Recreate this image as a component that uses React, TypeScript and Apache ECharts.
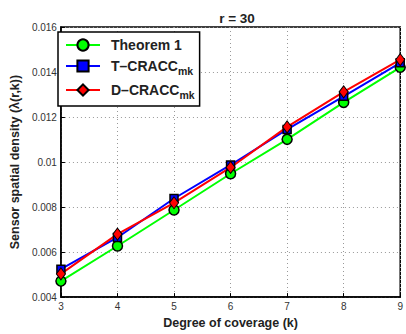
import React, { useEffect, useRef } from "react";
import * as echarts from "echarts";

const kValues = [3, 4, 5, 6, 7, 8, 9];
const theorem1 = [0.00471, 0.00627, 0.00787, 0.00948, 0.01101, 0.01265, 0.01421];
const tCracc = [0.00524, 0.00665, 0.00838, 0.00987, 0.01145, 0.01292, 0.01441];
const dCracc = [0.00503, 0.0068, 0.00819, 0.00976, 0.01156, 0.01312, 0.01455];
const yTickLabels: Record<string, string> = {
  "0.004": "0.004",
  "0.006": "0.006",
  "0.008": "0.008",
  "0.01": "0.01",
  "0.012": "0.012",
  "0.014": "0.014",
  "0.016": "0.016",
};
const seriesNames = ["Theorem 1", "T–CRACCmk", "D–CRACCmk"];

const FONT = "Liberation Sans, Arial, Helvetica, sans-serif";

export default function App() {
  const ref = useRef<HTMLDivElement>(null);
  useEffect(() => {
    if (!ref.current) return;
    const chart = echarts.init(ref.current, undefined, { renderer: "svg" });
    const toPairs = (arr: number[]) => kValues.map((k, i) => [k, arr[i]]);
    chart.setOption({
      animation: false,
      backgroundColor: "#ffffff",
      title: {
        text: "r = 30",
        left: 232,
        top: 6,
        textAlign: "center",
        textStyle: { fontFamily: FONT, fontWeight: "bold", fontSize: 13.5, color: "#222" },
      },
      grid: {
        left: 56,
        right: 4,
        top: 27,
        bottom: 33.5,
        show: true,
        borderColor: "#000",
        borderWidth: 1.5,
        backgroundColor: "#fff",
      },
      xAxis: {
        type: "value",
        min: 3,
        max: 9,
        interval: 1,
        name: "Degree of coverage (k)",
        nameLocation: "middle",
        nameGap: 16,
        nameTextStyle: { fontFamily: FONT, fontWeight: "bold", fontSize: 12.5, color: "#222" },
        axisLine: { show: true, lineStyle: { color: "#000", width: 1.5 } },
        axisTick: { show: true, inside: true, length: 4, lineStyle: { color: "#000" } },
        axisLabel: { fontFamily: FONT, fontSize: 10, color: "#333", margin: 4 },
        splitLine: { show: true, lineStyle: { color: "#999", type: [1, 3], width: 1 } },
      },
      yAxis: {
        type: "value",
        min: 0.004,
        max: 0.016,
        interval: 0.002,
        name: "Sensor spatial density (λ(r,k))",
        nameLocation: "middle",
        nameGap: 38,
        nameTextStyle: { fontFamily: FONT, fontWeight: "bold", fontSize: 12.5, color: "#222" },
        axisLine: { show: true, lineStyle: { color: "#000", width: 1.5 } },
        axisTick: { show: true, inside: true, length: 4, lineStyle: { color: "#000" } },
        axisLabel: {
          fontFamily: FONT,
          fontSize: 10,
          color: "#333",
          margin: 4,
          formatter: (v: number) => yTickLabels[String(parseFloat(v.toFixed(4)))] ?? String(v),
        },
        splitLine: { show: true, lineStyle: { color: "#999", type: [1, 3], width: 1 } },
      },
      legend: {
        left: 58,
        top: 32,
        orient: "vertical",
        data: seriesNames,
        backgroundColor: "#fff",
        borderColor: "#000",
        borderWidth: 1.5,
        borderRadius: 0,
        padding: [6, 5, 6, 7],
        itemGap: 7,
        itemWidth: 34,
        itemHeight: 14,
        formatter: (name: string) => {
          if (name === "Theorem 1") return "{a|Theorem 1}";
          return "{a|" + name.slice(0, -2) + "}{s|mk}";
        },
        textStyle: {
          fontFamily: FONT,
          fontWeight: "bold",
          fontSize: 14,
          color: "#222",
          rich: {
            a: { fontFamily: FONT, fontWeight: "bold", fontSize: 14, color: "#222", padding: [0, 0, 0, 6] },
            s: { fontFamily: FONT, fontWeight: "bold", fontSize: 10.5, color: "#222", verticalAlign: "bottom", padding: [9, 0, 0, 0] },
          },
        },
      },
      series: [
        {
          name: seriesNames[0],
          type: "line",
          data: toPairs(theorem1),
          symbol: "circle",
          symbolSize: 10,
          lineStyle: { color: "#00ff00", width: 2 },
          itemStyle: { color: "#00ff00", borderColor: "#000", borderWidth: 1.5 },
        },
        {
          name: seriesNames[1],
          type: "line",
          data: toPairs(tCracc),
          symbol: "rect",
          symbolSize: 8,
          lineStyle: { color: "#0000ff", width: 2 },
          itemStyle: { color: "#0000ff", borderColor: "#000", borderWidth: 1.5 },
        },
        {
          name: seriesNames[2],
          type: "line",
          data: toPairs(dCracc),
          symbol: "diamond",
          symbolSize: [9, 12],
          lineStyle: { color: "#ff0000", width: 2 },
          itemStyle: { color: "#ff0000", borderColor: "#000", borderWidth: 1 },
        },
      ],
    });
    return () => chart.dispose();
  }, []);
  return <div ref={ref} style={{ width: 406, height: 334, position: "absolute", left: 0, top: 0 }} />;
}
